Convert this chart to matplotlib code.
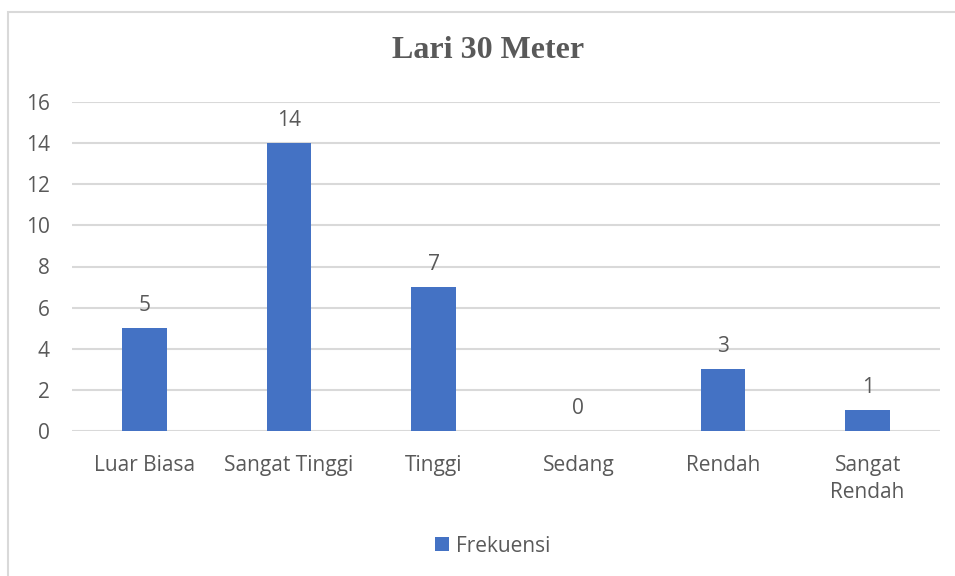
import matplotlib
matplotlib.use('Agg')
from matplotlib import pyplot as plt
from matplotlib.patches import Rectangle

# Data
categories = ['Luar Biasa', 'Sangat Tinggi', 'Tinggi', 'Sedang', 'Rendah', 'Sangat\nRendah']
frekuensi = [5, 14, 7, 0, 3, 1]
yticks = [0, 2, 4, 6, 8, 10, 12, 14, 16]

W, H = 955, 576
txt = '#595959'
grid = '#d9d9d9'
blue = '#4472c4'
fs = 15

fig = plt.figure(figsize=(W / 100, H / 100), dpi=100)
ax = fig.add_axes([72 / W, 1 - 431 / H, (940 - 72) / W, (431 - 102) / H])

x = list(range(len(categories)))
bars = ax.bar(x, frekuensi, width=0.31, color=blue, label='Frekuensi', zorder=3)

# Labels on top of bars
for xi, v in zip(x, frekuensi):
    ax.text(xi, v + 0.6, str(v), ha='center', va='bottom', fontsize=fs,
            color=txt, family='Open Sans')

ax.set_xlim(-0.5, len(categories) - 0.5)
ax.set_ylim(0, 16)
ax.set_yticks(yticks)
ax.set_xticks(x)
ax.set_xticklabels(categories, fontsize=fs, color=txt, family='Open Sans',
                   linespacing=1.4)
for lab in ax.get_yticklabels():
    lab.set_fontsize(fs)
    lab.set_color(txt)
    lab.set_family('Open Sans')
ax.tick_params(axis='both', length=0)
ax.tick_params(axis='x', pad=17)
ax.tick_params(axis='y', pad=16)
ax.yaxis.grid(True, color=grid, linewidth=1.5, zorder=0)
for s in ax.spines.values():
    s.set_visible(False)

# Title
fig.text(488 / W, 1 - 51 / H, 'Lari 30 Meter', ha='center', va='center',
         fontsize=23, fontweight='bold', color=txt, family='Liberation Serif')

# Legend
leg = fig.legend(handles=[bars], labels=['Frekuensi'], loc='center',
                 bbox_to_anchor=(493 / W, 1 - 546 / H), frameon=False,
                 handlelength=0.65, handleheight=0.65,
                 handletextpad=0.35, prop={'family': 'Open Sans', 'size': fs})
for t in leg.get_texts():
    t.set_color(txt)

# Chart border
fig.patches.append(Rectangle((8 / W, -0.1), 1.2, 1 - 12 / H + 0.1,
                             transform=fig.transFigure, fill=False,
                             edgecolor=grid, linewidth=1.5))

fig.savefig('out.png', dpi=100)
